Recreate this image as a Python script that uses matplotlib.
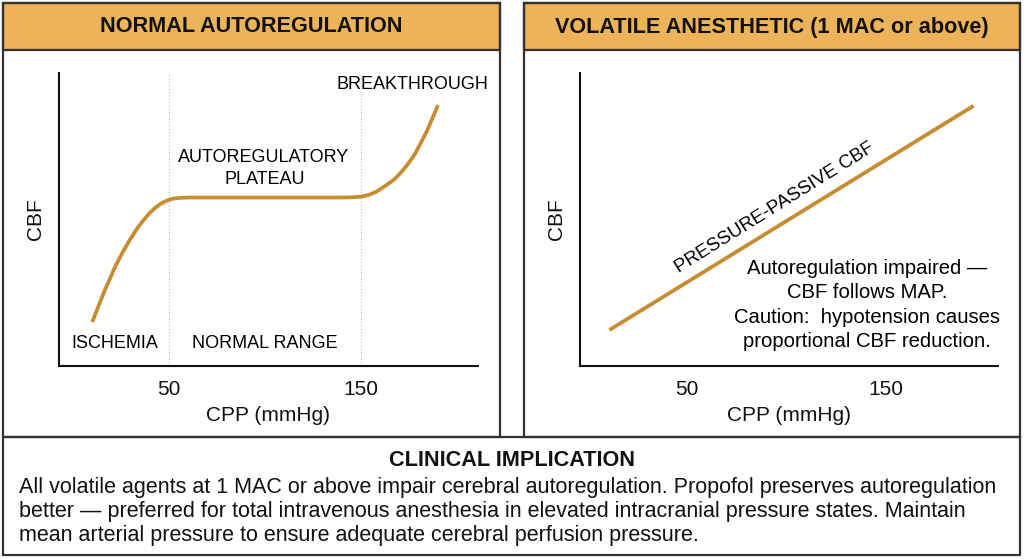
import matplotlib
matplotlib.use("Agg")
import matplotlib.pyplot as plt
from matplotlib.patches import Rectangle

plt.rcParams['font.family'] = ['Liberation Sans', 'DejaVu Sans']

# ---------------- data ----------------
left_title = "NORMAL AUTOREGULATION"
right_title = "VOLATILE ANESTHETIC (1 MAC or above)"
x_ticks = [50, 150]
x_tick_labels = ["50", "150"]
x_label = "CPP (mmHg)"
y_label = "CBF"

# normal autoregulation curve (CPP, CBF in arbitrary units 0-100)
auto_cpp = [10, 13, 16, 19, 22, 26, 30, 34, 37, 40, 43, 46, 49, 52, 56, 60, 80, 100,
            120, 140, 146, 150, 154, 158, 162, 167, 171, 174, 178, 181, 184, 186, 188, 190]
auto_cbf = [15, 20, 25, 29.5, 34, 39, 43.5, 47.5, 50, 52.3, 54.1, 55.5, 56.5, 57.1, 57.4, 57.5, 57.5, 57.5,
            57.5, 57.5, 57.6, 57.8, 58.4, 59.5, 61.2, 63.5, 66.2, 68.6, 72.3, 76, 79.8, 82.8, 85.8, 89]

# volatile anesthetic: pressure-passive line
passive_cpp = [11, 194]
passive_cbf = [12.3, 88.8]

annot_lines = ["Autoregulation impaired \u2014",
               "CBF follows MAP.",
               "Caution:  hypotension causes",
               "proportional CBF reduction."]

clin_title = "CLINICAL IMPLICATION"
clin_lines = [
    "All volatile agents at 1 MAC or above impair cerebral autoregulation. Propofol preserves autoregulation",
    "better \u2014 preferred for total intravenous anesthesia in elevated intracranial pressure states. Maintain",
    "mean arterial pressure to ensure adequate cerebral perfusion pressure.",
]

# ---------------- style ----------------
W, H = 1024, 559
HEADER = "#EDB358"
CURVE = "#C98B2F"
BORDER = "#333333"

fig = plt.figure(figsize=(W / 100, H / 100), dpi=100)
fig.patch.set_facecolor("white")


def fx(px):
    return px / W


def fy(py):
    return 1 - py / H


def rect(x0, y0, x1, y1, fc="none", ec=BORDER, lw=1.6, z=0):
    fig.add_artist(Rectangle((fx(x0), fy(y1)), fx(x1) - fx(x0), fy(y0) - fy(y1),
                             transform=fig.transFigure, facecolor=fc, edgecolor=ec,
                             linewidth=lw, zorder=z))


# panels
for (x0, x1, title) in [(3, 500, left_title), (524, 1020, right_title)]:
    rect(x0, 3, x1, 50, fc=HEADER, z=1)
    rect(x0, 3, x1, 437, z=2)
    fig.text(fx((x0 + x1) / 2), fy(27), title, ha="center", va="center",
             fontsize=15.6, fontweight="bold", color="#111111", zorder=3)

# bottom box
rect(3, 437, 1020, 555, z=2)
fig.text(0.5, fy(461), clin_title, ha="center", va="center", fontsize=15.6,
         fontweight="bold", color="#111111")
for i, line in enumerate(clin_lines):
    fig.text(fx(19), fy(488 + 24 * i), line, ha="left", va="center",
             fontsize=15.5, color="#111111")


def style_axes(ax, xlim):
    ax.set_xlim(*xlim)
    ax.set_ylim(0, 100)
    for s in ["top", "right"]:
        ax.spines[s].set_visible(False)
    for s in ["left", "bottom"]:
        ax.spines[s].set_linewidth(1.5)
        ax.spines[s].set_color("#111111")
    ax.set_yticks([])
    ax.set_xticks(x_ticks)
    ax.set_xticklabels(x_tick_labels)
    ax.tick_params(axis="x", length=0, pad=10, labelsize=15, labelcolor="#111111")
    ax.set_xlabel(x_label, fontsize=15, labelpad=5, color="#111111")
    ax.set_ylabel(y_label, fontsize=15, labelpad=10, color="#111111")
    ax.patch.set_alpha(0)


# left axes
axL = fig.add_axes([fx(59), fy(366), fx(478) - fx(59), fy(73) - fy(366)])
style_axes(axL, (-7.3, 210.9))
for xv in x_ticks:
    axL.axvline(xv, color="#bbbbbb", lw=0.8, ls=(0, (1, 2)), zorder=1)
axL.plot(auto_cpp, auto_cbf, color=CURVE, lw=2.7, solid_capstyle="butt",
         solid_joinstyle="round", zorder=3)

axL.text(177, 96, "BREAKTHROUGH", ha="center", va="center", fontsize=13)
axL.text(99, 71.3, "AUTOREGULATORY", ha="center", va="center", fontsize=13)
axL.text(100, 63.5, "PLATEAU", ha="center", va="center", fontsize=13)
axL.text(22, 7.8, "ISCHEMIA", ha="center", va="center", fontsize=13)
axL.text(100, 7.8, "NORMAL RANGE", ha="center", va="center", fontsize=13)

# right axes
axR = fig.add_axes([fx(580), fy(366), fx(998) - fx(580), fy(73) - fy(366)])
style_axes(axR, (-3.8, 206.3))
axR.plot(passive_cpp, passive_cbf, color=CURVE, lw=2.7, solid_capstyle="butt", zorder=3)
axR.text(94.2, 54, "PRESSURE-PASSIVE CBF", ha="center", va="center",
         rotation=32, rotation_mode="anchor", fontsize=13.5)
for i, line in enumerate(annot_lines):
    fig.text(fx(867), fy(268 + 24.6 * i), line, ha="center", va="center", fontsize=14.6)

fig.savefig("out.png", dpi=100)
